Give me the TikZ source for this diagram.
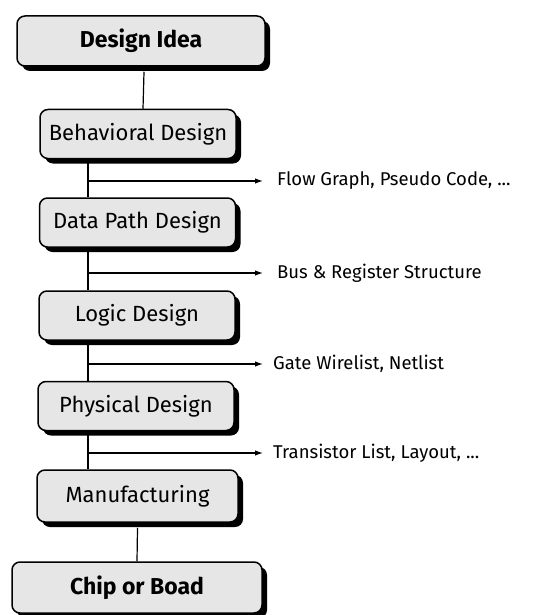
\documentclass[tikz,border=0pt]{standalone}
\usepackage{fontspec}
\setmainfont{Fira Sans}
\usetikzlibrary{arrows.meta,shadows,calc}
\definecolor{boxgray}{HTML}{E6E6E6}
\tikzset{
  stage/.style={draw=black, line width=1.5pt, fill=boxgray, rounded corners=8pt,
    minimum width=196pt, minimum height=49pt, inner sep=0pt, font=\fontsize{22}{26}\selectfont,
    drop shadow={shadow xshift=5pt, shadow yshift=-5pt, fill=black, opacity=1}},
  endstage/.style={stage, font=\fontsize{23}{27}\selectfont\bfseries},
  link/.style={line width=1.2pt},
  outlink/.style={line width=1.2pt, -{Latex[length=8pt,width=5.5pt]}},
  result/.style={anchor=west, inner sep=0pt, font=\fontsize{18.5}{22}\selectfont}
}
\begin{document}
\begin{tikzpicture}[x=1pt,y=-1pt]
\useasboundingbox (0,0) rectangle (538,615);

% design stages
\node[endstage, minimum width=248pt, minimum height=50pt] (idea) at (141,41) {Design Idea};
\node[stage] (beh)  at (138,134) {Behavioral Design};
\node[stage] (dp)   at (137.5,222.5) {Data Path Design};
\node[stage] (logic) at (137,315.5) {Logic Design};
\node[stage] (phys) at (136,406) {Physical Design};
\node[stage, minimum width=201pt, minimum height=52pt] (mfg) at (137.5,496) {Manufacturing};
\node[endstage, minimum width=250pt, minimum height=51pt] (chip) at (137,587.5) {Chip or Boad};

% intermediate results
\node[result] (r1) at (277,181) {Flow Graph, Pseudo Code, ...};
\node[result] (r2) at (277,273) {Bus \& Register Structure};
\node[result] (r3) at (273,364) {Gate Wirelist, Netlist};
\node[result] (r4) at (273,453) {Transistor List, Layout, ...};

% trunk line and taps
\coordinate (trunk) at (88,0);
\coordinate (t1) at (88,181);
\coordinate (t2) at (88,273);
\coordinate (t3) at (88,364);
\coordinate (t4) at (88,453);

\draw[link] ($(idea.south)+(3,5)$) -- ($(beh.north)+(5,0)$);
\draw[link] (beh.south -| trunk) -- (dp.north -| trunk);
\draw[link] (dp.south -| trunk) -- (logic.north -| trunk);
\draw[link] (logic.south -| trunk) -- (phys.north -| trunk);
\draw[link] (phys.south -| trunk) -- (mfg.north -| trunk);
\draw[link] ($(mfg.south)+(0,5)$) -- (chip.north);

\draw[outlink] (t1) -- ([xshift=-14pt]r1.west);
\draw[outlink] (t2) -- ([xshift=-14pt]r2.west);
\draw[outlink] (t3) -- ([xshift=-10pt]r3.west);
\draw[outlink] (t4) -- ([xshift=-10pt]r4.west);
\end{tikzpicture}
\end{document}
